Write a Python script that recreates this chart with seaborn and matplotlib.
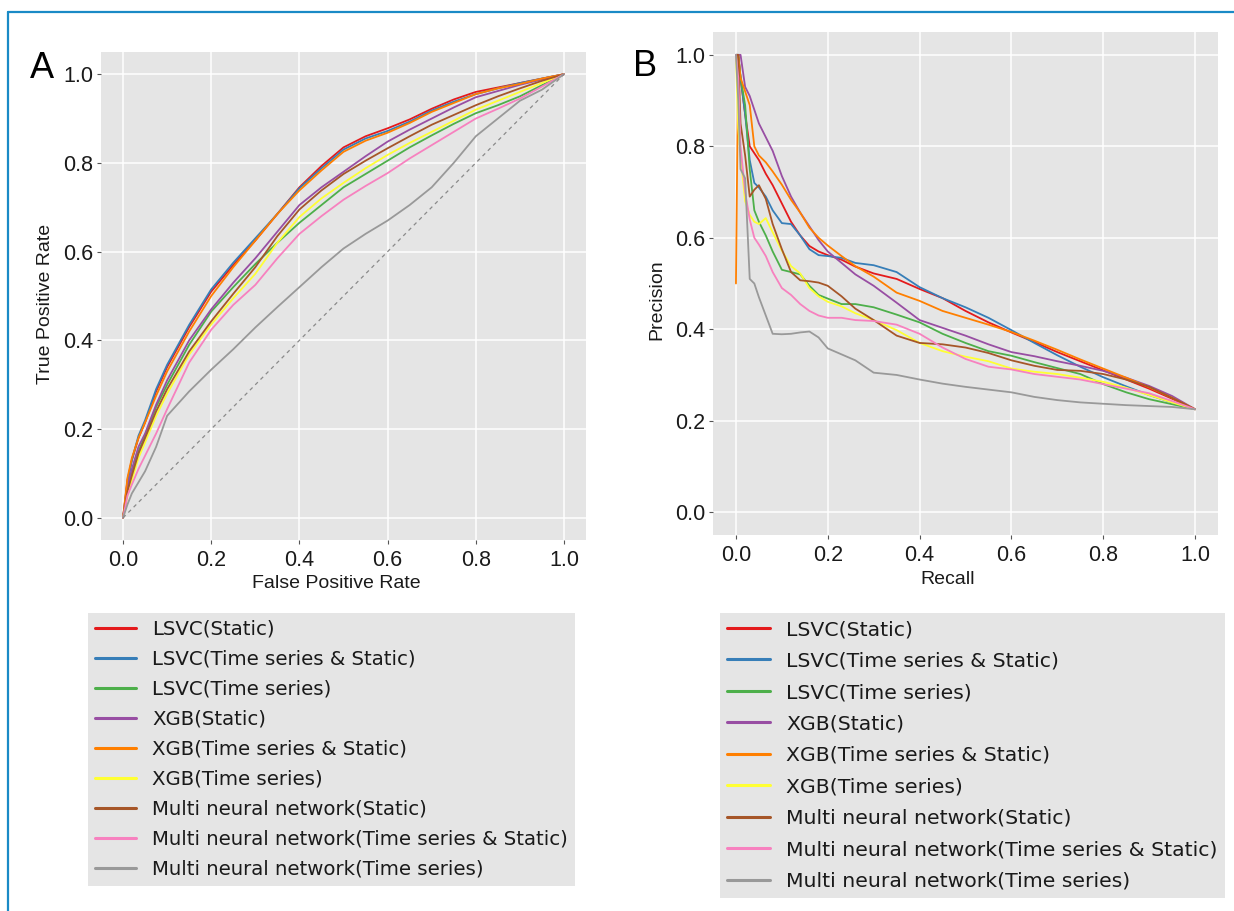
import numpy as np
import pandas as pd
import matplotlib
matplotlib.use("Agg")
import matplotlib.pyplot as plt
import seaborn as sns
from matplotlib.lines import Line2D

# ---------------- data ----------------
models = ["LSVC(Static)", "LSVC(Time series & Static)", "LSVC(Time series)",
          "XGB(Static)", "XGB(Time series & Static)", "XGB(Time series)",
          "Multi neural network(Static)", "Multi neural network(Time series & Static)",
          "Multi neural network(Time series)"]
colors = ["#e41a1c", "#377eb8", "#4daf4a", "#984ea3", "#ff7f00",
          "#ffff33", "#a65628", "#f781bf", "#999999"]

# ROC (panel A)
roc_fpr = [0, 0.01, 0.02, 0.035, 0.05, 0.075, 0.1, 0.15, 0.2, 0.25, 0.3, 0.35, 0.4, 0.45,
           0.5, 0.55, 0.6, 0.65, 0.7, 0.75, 0.8, 0.85, 0.9, 0.95, 1.0]
tpr_lsvc_static = [0, 0.085, 0.13, 0.18, 0.215, 0.285, 0.34, 0.43, 0.51, 0.57, 0.625, 0.685, 0.745,
                   0.793, 0.835, 0.86, 0.878, 0.898, 0.922, 0.943, 0.96, 0.97, 0.98, 0.99, 1.0]
tpr_lsvc_ts_static = [0, 0.08, 0.13, 0.185, 0.22, 0.29, 0.345, 0.435, 0.515, 0.575, 0.63, 0.685,
                      0.743, 0.788, 0.83, 0.855, 0.872, 0.893, 0.918, 0.938, 0.955, 0.968, 0.98,
                      0.99, 1.0]
tpr_lsvc_ts = [0, 0.06, 0.10, 0.15, 0.185, 0.25, 0.30, 0.39, 0.465, 0.52, 0.572, 0.62, 0.665,
               0.705, 0.745, 0.775, 0.805, 0.835, 0.862, 0.888, 0.912, 0.93, 0.95, 0.975, 1.0]
tpr_xgb_static = [0, 0.07, 0.11, 0.16, 0.19, 0.255, 0.31, 0.40, 0.47, 0.53, 0.585, 0.645, 0.705,
                  0.745, 0.78, 0.815, 0.848, 0.875, 0.9, 0.925, 0.948, 0.962, 0.976, 0.988, 1.0]
tpr_xgb_ts_static = [0, 0.09, 0.135, 0.18, 0.215, 0.275, 0.33, 0.42, 0.50, 0.565, 0.625, 0.685,
                     0.738, 0.783, 0.825, 0.85, 0.868, 0.89, 0.915, 0.935, 0.955, 0.968, 0.978,
                     0.99, 1.0]
tpr_xgb_ts = [0, 0.05, 0.085, 0.135, 0.17, 0.23, 0.28, 0.368, 0.436, 0.495, 0.55, 0.62, 0.678,
              0.72, 0.755, 0.788, 0.818, 0.845, 0.87, 0.895, 0.92, 0.94, 0.96, 0.98, 1.0]
tpr_mnn_static = [0, 0.06, 0.095, 0.145, 0.18, 0.24, 0.29, 0.375, 0.443, 0.505, 0.565, 0.635,
                  0.695, 0.738, 0.775, 0.805, 0.833, 0.86, 0.886, 0.908, 0.93, 0.95, 0.968,
                  0.985, 1.0]
tpr_mnn_ts_static = [0, 0.05, 0.075, 0.11, 0.14, 0.19, 0.245, 0.35, 0.424, 0.48, 0.525, 0.585,
                     0.64, 0.68, 0.717, 0.748, 0.777, 0.81, 0.84, 0.87, 0.9, 0.922, 0.945,
                     0.972, 1.0]
tpr_mnn_ts = [0, 0.03, 0.055, 0.08, 0.105, 0.16, 0.23, 0.285, 0.334, 0.38, 0.429, 0.475, 0.52,
              0.565, 0.607, 0.64, 0.67, 0.705, 0.745, 0.80, 0.86, 0.9, 0.94, 0.965, 1.0]
chance = [0, 1]

# Precision-recall (panel B)
pr_recall = [0, 0.005, 0.01, 0.02, 0.03, 0.04, 0.05, 0.065, 0.08, 0.1, 0.12, 0.14, 0.16,
             0.18, 0.2, 0.23, 0.26, 0.3, 0.35, 0.4, 0.45, 0.5, 0.55, 0.6, 0.65, 0.7,
             0.75, 0.8, 0.85, 0.9, 0.95, 1.0]
prec_lsvc_static = [1.0, 1.0, 0.95, 0.87, 0.8, 0.785, 0.77, 0.74, 0.715, 0.675, 0.635, 0.605, 0.582,
                    0.57, 0.562, 0.552, 0.537, 0.522, 0.51, 0.488, 0.468, 0.44, 0.415, 0.393, 0.372,
                    0.35, 0.33, 0.31, 0.29, 0.27, 0.248, 0.225]
prec_lsvc_ts_static = [1.0, 1.0, 0.95, 0.87, 0.77, 0.72, 0.71, 0.69, 0.66, 0.632, 0.63, 0.605, 0.575,
                       0.562, 0.56, 0.556, 0.545, 0.54, 0.525, 0.492, 0.468, 0.448, 0.425, 0.398, 0.37,
                       0.343, 0.318, 0.295, 0.275, 0.256, 0.24, 0.225]
prec_lsvc_ts = [1.0, 1.0, 0.95, 0.89, 0.75, 0.66, 0.635, 0.605, 0.57, 0.53, 0.525, 0.52, 0.495,
                0.475, 0.467, 0.455, 0.455, 0.448, 0.432, 0.415, 0.39, 0.37, 0.352, 0.342, 0.328,
                0.315, 0.302, 0.28, 0.262, 0.247, 0.236, 0.225]
prec_xgb_static = [1.0, 1.0, 1.0, 0.93, 0.91, 0.88, 0.85, 0.82, 0.79, 0.735, 0.69, 0.655, 0.625,
                   0.595, 0.57, 0.545, 0.52, 0.495, 0.458, 0.42, 0.403, 0.386, 0.367, 0.35, 0.341,
                   0.33, 0.32, 0.309, 0.294, 0.276, 0.254, 0.225]
prec_xgb_ts_static = [0.5, 1.0, 0.95, 0.92, 0.89, 0.8, 0.78, 0.765, 0.745, 0.716, 0.683, 0.655, 0.622,
                      0.6, 0.583, 0.56, 0.538, 0.515, 0.48, 0.462, 0.44, 0.425, 0.41, 0.394, 0.375,
                      0.355, 0.334, 0.314, 0.294, 0.273, 0.25, 0.225]
prec_xgb_ts = [1.0, 0.84, 0.78, 0.68, 0.65, 0.635, 0.63, 0.643, 0.612, 0.572, 0.538, 0.522, 0.49,
               0.472, 0.46, 0.45, 0.435, 0.42, 0.398, 0.37, 0.352, 0.34, 0.33, 0.314, 0.307,
               0.302, 0.294, 0.285, 0.272, 0.256, 0.24, 0.225]
prec_mnn_static = [1.0, 1.0, 0.85, 0.78, 0.69, 0.705, 0.715, 0.685, 0.63, 0.575, 0.525, 0.507, 0.505,
                   0.502, 0.495, 0.472, 0.445, 0.42, 0.386, 0.37, 0.367, 0.36, 0.348, 0.332, 0.32,
                   0.311, 0.309, 0.302, 0.29, 0.274, 0.25, 0.225]
prec_mnn_ts_static = [1.0, 0.95, 0.8, 0.7, 0.64, 0.6, 0.585, 0.56, 0.525, 0.49, 0.475, 0.455, 0.44,
                      0.43, 0.425, 0.425, 0.42, 0.418, 0.41, 0.39, 0.36, 0.335, 0.318, 0.312, 0.302,
                      0.296, 0.29, 0.28, 0.27, 0.26, 0.243, 0.225]
prec_mnn_ts = [1.0, 0.9, 0.75, 0.73, 0.51, 0.5, 0.47, 0.43, 0.39, 0.389, 0.39, 0.393, 0.395,
               0.382, 0.358, 0.345, 0.332, 0.305, 0.3, 0.29, 0.281, 0.274, 0.268, 0.262, 0.252,
               0.245, 0.24, 0.237, 0.234, 0.232, 0.23, 0.225]

tick_values = [0.0, 0.2, 0.4, 0.6, 0.8, 1.0]
tick_labels = ["0.0", "0.2", "0.4", "0.6", "0.8", "1.0"]

roc_tprs = [tpr_lsvc_static, tpr_lsvc_ts_static, tpr_lsvc_ts, tpr_xgb_static, tpr_xgb_ts_static,
            tpr_xgb_ts, tpr_mnn_static, tpr_mnn_ts_static, tpr_mnn_ts]
pr_precs = [prec_lsvc_static, prec_lsvc_ts_static, prec_lsvc_ts, prec_xgb_static, prec_xgb_ts_static,
            prec_xgb_ts, prec_mnn_static, prec_mnn_ts_static, prec_mnn_ts]

roc_df = pd.concat([pd.DataFrame({"fpr": roc_fpr, "tpr": t, "model": m})
                    for m, t in zip(models, roc_tprs)], ignore_index=True)
pr_df = pd.concat([pd.DataFrame({"recall": pr_recall, "precision": p, "model": m})
                   for m, p in zip(models, pr_precs)], ignore_index=True)

# ---------------- style ----------------
sns.set_theme(style="darkgrid", rc={
    "axes.facecolor": "#e5e5e5",
    "grid.color": "white",
    "grid.linewidth": 1.1,
    "axes.edgecolor": "#e5e5e5",
})
plt.rcParams["font.family"] = ["Liberation Sans", "DejaVu Sans"]

W, H = 1234, 911
fig = plt.figure(figsize=(W / 100, H / 100), dpi=100, facecolor="white")

def fx(px):
    return px / W

def fy(py):
    return 1 - py / H

axA = fig.add_axes([fx(101), fy(540), fx(586) - fx(101), fy(52) - fy(540)])
axB = fig.add_axes([fx(713), fy(535), fx(1218) - fx(713), fy(32) - fy(535)])

pal = dict(zip(models, colors))

sns.lineplot(data=roc_df, x="fpr", y="tpr", hue="model", hue_order=models, palette=pal,
             estimator=None, sort=False, linewidth=1.3, legend=False, ax=axA)
axA.plot(chance, chance, linestyle=(0, (3, 3)), color="#8a8a8a", linewidth=0.9)

sns.lineplot(data=pr_df, x="recall", y="precision", hue="model", hue_order=models, palette=pal,
             estimator=None, sort=False, linewidth=1.3, legend=False, ax=axB)

for ax in (axA, axB):
    ax.set_xlim(-0.05, 1.05)
    ax.set_ylim(-0.05, 1.05)
    ax.set_xticks(tick_values)
    ax.set_xticklabels(tick_labels)
    ax.set_yticks(tick_values)
    ax.set_yticklabels(tick_labels)
    for s in ax.spines.values():
        s.set_visible(False)
    ax.tick_params(axis="both", which="major", length=3, width=0.8, color="#555555",
                   labelsize=15.5, labelcolor="#1a1a1a", left=True, bottom=True)
    ax.tick_params(axis="x", pad=4)
    ax.tick_params(axis="y", pad=2.5)
    ax.grid(True, color="white", linewidth=1.1)

axA.set_xlabel("False Positive Rate", fontsize=14, color="#1a1a1a")
axA.set_ylabel("True Positive Rate", fontsize=14, color="#1a1a1a")
axA.xaxis.set_label_coords(0.485, -0.09)
axA.yaxis.set_label_coords(-0.115, 0.484)
axA.xaxis.label.set_verticalalignment("center")
axA.yaxis.label.set_verticalalignment("center")

axB.set_xlabel("Recall", fontsize=14, color="#1a1a1a")
axB.set_ylabel("Precision", fontsize=14, color="#1a1a1a")
axB.xaxis.set_label_coords(0.465, -0.0875)
axB.yaxis.set_label_coords(-0.111, 0.467)
axB.xaxis.label.set_verticalalignment("center")
axB.yaxis.label.set_verticalalignment("center")

fig.text(fx(42), fy(68), "A", fontsize=26, ha="center", va="center", color="black")
fig.text(fx(645), fy(67), "B", fontsize=26, ha="center", va="center", color="black")

# legends
def make_legend(ax, x, y, size, spacing):
    handles = [Line2D([], [], color=c, linewidth=2.2) for c in colors]
    leg = ax.legend(handles, models, loc="upper left", bbox_to_anchor=(fx(x), fy(y)),
                    bbox_transform=fig.transFigure, borderaxespad=0,
                    prop={"family": "DejaVu Sans", "size": size},
                    handlelength=2.1, handletextpad=0.8, labelspacing=spacing,
                    borderpad=0.35, frameon=True, fancybox=False, framealpha=1,
                    facecolor="#e5e5e5", edgecolor="#e5e5e5")
    leg.get_frame().set_linewidth(0)
    for t in leg.get_texts():
        t.set_color("#1a1a1a")
    return leg

make_legend(axA, 88, 612.6, 14.2, 0.56)
make_legend(axB, 720, 613, 14.7, 0.61)

# blue frame lines
border = "#1a8ac6"
fig.add_artist(Line2D([fx(8), fx(8)], [0, fy(12)], color=border, linewidth=1.6,
                      transform=fig.transFigure))
fig.add_artist(Line2D([fx(8), 1], [fy(12), fy(12)], color=border, linewidth=1.6,
                      transform=fig.transFigure))

fig.savefig("out.png", dpi=100, facecolor="white")
